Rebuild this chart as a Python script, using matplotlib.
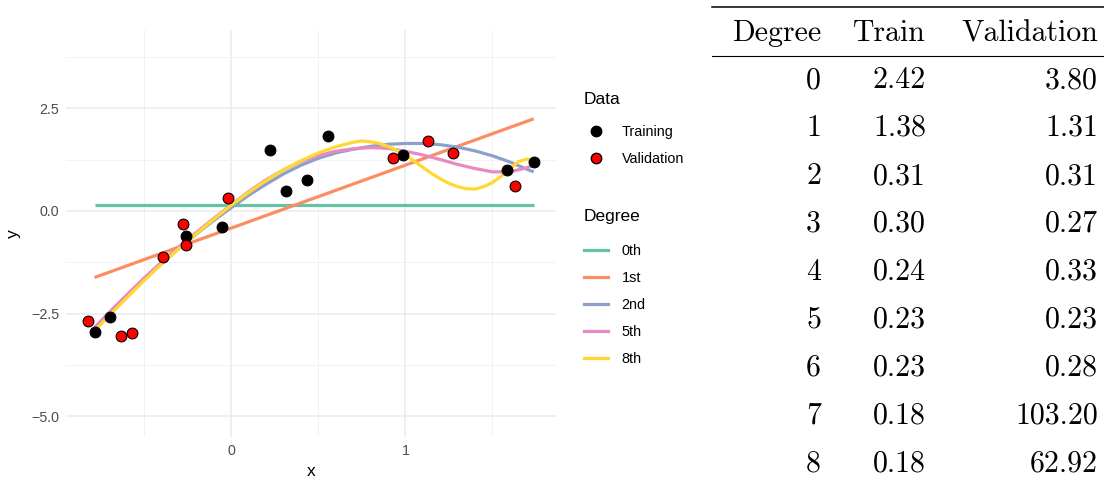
import matplotlib
matplotlib.use("Agg")
import matplotlib.pyplot as plt
from matplotlib.lines import Line2D

plt.rcParams['font.family'] = ['Liberation Sans', 'DejaVu Sans']

# training / validation points
train_x = [-0.786, -0.699, -0.263, -0.051, 0.222, 0.316, 0.434, 0.557, 0.987, 1.583, 1.737]
train_y = [-2.94, -2.57, -0.61, -0.40, 1.49, 0.49, 0.74, 1.82, 1.36, 0.99, 1.19]
valid_x = [-0.822, -0.633, -0.568, -0.392, -0.280, -0.261, -0.021, 0.926, 1.131, 1.271, 1.627]
valid_y = [-2.69, -3.04, -2.98, -1.11, -0.33, -0.82, 0.31, 1.29, 1.71, 1.42, 0.61]

# fitted curves
deg0_x = [-0.786, 1.737]
deg0_y = [0.14, 0.14]
deg1_x = [-0.786, 1.737]
deg1_y = [-1.62, 2.24]
grid_x = [-0.786, -0.7, -0.6, -0.5, -0.4, -0.3, -0.2, -0.1, 0.0, 0.1, 0.2, 0.3, 0.4,
          0.5, 0.6, 0.7, 0.8, 0.9, 1.0, 1.1, 1.2, 1.3, 1.4, 1.5, 1.6, 1.7, 1.737]
deg2_y = [-2.85, -2.48, -2.07, -1.67, -1.28, -0.91, -0.56, -0.23, 0.08, 0.38, 0.65, 0.90, 1.11,
          1.28, 1.41, 1.50, 1.57, 1.62, 1.64, 1.64, 1.61, 1.55, 1.46, 1.34, 1.19, 1.01, 0.95]
deg5_y = [-2.84, -2.46, -2.04, -1.63, -1.24, -0.87, -0.52, -0.18, 0.15, 0.47, 0.76, 1.00, 1.20,
          1.35, 1.45, 1.51, 1.54, 1.52, 1.45, 1.36, 1.25, 1.13, 1.03, 0.95, 0.95, 1.05, 1.12]
deg8_x = [-0.786, -0.7, -0.6, -0.5, -0.4, -0.3, -0.2, -0.1, 0.0, 0.1, 0.2, 0.3, 0.4, 0.5, 0.6,
          0.7, 0.75, 0.8, 0.85, 0.9, 0.95, 1.0, 1.05, 1.1, 1.15, 1.2, 1.25, 1.3, 1.35, 1.4,
          1.45, 1.5, 1.55, 1.6, 1.65, 1.7, 1.737]
deg8_y = [-2.92, -2.54, -2.11, -1.69, -1.29, -0.91, -0.55, -0.20, 0.14, 0.45, 0.74, 1.00, 1.22,
          1.41, 1.56, 1.67, 1.70, 1.68, 1.64, 1.57, 1.47, 1.36, 1.21, 1.06, 0.91, 0.78, 0.67,
          0.59, 0.54, 0.53, 0.59, 0.69, 0.84, 1.03, 1.20, 1.26, 1.21]

degree_labels = ['0th', '1st', '2nd', '5th', '8th']
degree_colors = ['#66C2A5', '#FC8D62', '#8DA0CB', '#E78AC3', '#FFD92F']

# error table
tab_degree = [0, 1, 2, 3, 4, 5, 6, 7, 8]
tab_train = [2.42, 1.38, 0.31, 0.30, 0.24, 0.23, 0.23, 0.18, 0.18]
tab_valid = [3.80, 1.31, 0.31, 0.27, 0.33, 0.23, 0.28, 103.20, 62.92]

W, H = 1104, 484
fig = plt.figure(figsize=(W / 100, H / 100), dpi=100)
ax = fig.add_axes([66 / W, 47 / H, 490 / W, 407 / H])

curves = [(deg0_x, deg0_y), (deg1_x, deg1_y), (grid_x, deg2_y), (grid_x, deg5_y), (deg8_x, deg8_y)]
for (cx, cy), col in zip(curves, degree_colors):
    ax.plot(cx, cy, color=col, lw=2.3, solid_capstyle='butt', zorder=2)

ax.scatter(train_x, train_y, s=60, color='black', edgecolors='black', linewidths=0.8, zorder=3)
ax.scatter(valid_x, valid_y, s=60, color='#FF0000', edgecolors='black', linewidths=0.8, zorder=3)

ax.set_xlim(-0.95, 1.865)
ax.set_ylim(-5.5, 4.4)
ax.set_xticks([0, 1])
ax.set_xticks([-0.5, 0.5, 1.5], minor=True)
ax.set_yticks([-5.0, -2.5, 0.0, 2.5])
ax.set_yticklabels(['\u22125.0', '\u22122.5', '0.0', '2.5'])
ax.set_yticks([-3.75, -1.25, 1.25, 3.75], minor=True)
ax.grid(True, which='major', color='#EBEBEB', lw=1.1)
ax.grid(True, which='minor', color='#F2F2F2', lw=0.7)
ax.set_axisbelow(True)
for s in ax.spines.values():
    s.set_visible(False)
ax.tick_params(which='both', length=0, labelsize=10.3, labelcolor='#4D4D4D', pad=5)
ax.set_xlabel('x', fontsize=12.5, labelpad=4)
ax.set_ylabel('y', fontsize=12.5, labelpad=7)

# legends
data_handles = [
    Line2D([], [], ls='none', marker='o', markersize=7.5, markerfacecolor='black', markeredgecolor='black'),
    Line2D([], [], ls='none', marker='o', markersize=7.5, markerfacecolor='#FF0000', markeredgecolor='black'),
]
leg_kw = dict(loc='upper left', frameon=False, fontsize=10.4, title_fontsize=12.5, alignment='left',
              borderpad=0, borderaxespad=0, handlelength=1.65, handletextpad=0.95, labelspacing=0.9)
leg1 = fig.legend(data_handles, ['Training', 'Validation'], title='Data',
                  bbox_to_anchor=(584 / W, 1 - 92 / H), **leg_kw)
deg_handles = [Line2D([], [], color=c, lw=2.3) for c in degree_colors]
leg2 = fig.legend(deg_handles, degree_labels, title='Degree',
                  bbox_to_anchor=(584 / W, 1 - 209 / H), **leg_kw)
leg1._legend_box.sep = 13  # gap between legend title and keys
leg2._legend_box.sep = 14.5

# table
tfs = 21.5
fig.add_artist(Line2D([712 / W, 1.0], [1 - 7 / H, 1 - 7 / H], transform=fig.transFigure, color='black', lw=1.1))
fig.add_artist(Line2D([712 / W, 1.0], [1 - 56 / H, 1 - 56 / H], transform=fig.transFigure, color='black', lw=0.8))
col_right = [821 / W, 926 / W, 1098 / W]
for cx, head in zip(col_right, ['Degree', 'Train', 'Validation']):
    fig.text(cx, 1 - 41 / H, head, family='cmr10', fontsize=tfs, ha='right', va='baseline')
for i, (d, tr, va) in enumerate(zip(tab_degree, tab_train, tab_valid)):
    yb = 1 - (88 + 48 * i) / H
    fig.text(col_right[0], yb, f'{d}', family='cmr10', fontsize=tfs, ha='right', va='baseline')
    fig.text(col_right[1], yb, f'{tr:.2f}', family='cmr10', fontsize=tfs, ha='right', va='baseline')
    fig.text(col_right[2], yb, f'{va:.2f}', family='cmr10', fontsize=tfs, ha='right', va='baseline')

fig.savefig('out.png', dpi=100, facecolor='white')
